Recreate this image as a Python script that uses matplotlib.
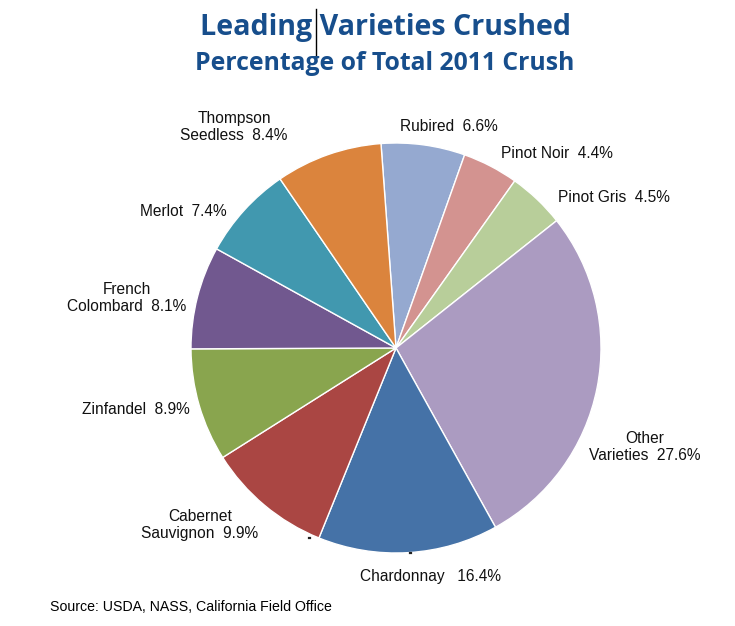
import matplotlib
matplotlib.use("Agg")
import matplotlib.pyplot as plt
from matplotlib.lines import Line2D

# ---- data ----
varieties = ["Rubired", "Pinot Noir", "Pinot Gris", "Other\nVarieties", "Chardonnay",
             "Cabernet\nSauvignon", "Zinfandel", "French\nColombard", "Merlot",
             "Thompson\nSeedless"]
# percentages printed in the labels
label_percents = [6.6, 4.4, 4.5, 27.6, 16.4, 9.9, 8.9, 8.1, 7.4, 8.4]
# wedge sizes as drawn (the Chardonnay wedge is drawn at ~14.2%)
wedge_sizes = [6.6, 4.4, 4.5, 27.6, 14.2, 9.9, 8.9, 8.1, 7.4, 8.4]
colors = ["#95A9D0", "#D39390", "#B8CE9A", "#AB9BC1", "#4572A7",
          "#AA4643", "#89A54E", "#71588F", "#4198AF", "#DB843D"]
title = "Leading Varieties Crushed"
subtitle = "Percentage of Total 2011 Crush"
source = "Source: USDA, NASS, California Field Office"

W, H = 735, 626
fig = plt.figure(figsize=(W / 100, H / 100), dpi=100)
fig.patch.set_facecolor("white")

def fx(px):
    return px / W

def fy(py):
    return 1 - py / H

cx, cy, R = 396, 348, 205
ax = fig.add_axes([fx(cx - R), fy(cy + R), 2 * R / W, 2 * R / H])
ax.pie(wedge_sizes, colors=colors, startangle=94.2, counterclock=False,
       wedgeprops=dict(edgecolor="white", linewidth=1.0), radius=1.0)
ax.set_xlim(-1, 1)
ax.set_ylim(-1, 1)
ax.set_aspect("equal")
ax.axis("off")

# label text and placement (pixel centres)
label_pos = [(449, 126), (557, 153), (614, 198), (645, 447), (431, 576),
             (200, 525), (136, 409), (127, 298), (183, 211), (234, 127)]
seps = ["  ", "  ", "  ", "  ", "   ", "  ", "  ", "  ", "  ", "  "]
for name, p, sep, (px, py) in zip(varieties, label_percents, seps, label_pos):
    fig.text(fx(px), fy(py), f"{name}{sep}{p:.1f}%", ha="center", va="center",
             multialignment="center", fontsize=11.2, family="Liberation Sans",
             color="#111111", linespacing=1.15)

title_color = "#174E8C"
fig.text(fx(385), fy(28), title, ha="center", va="center", fontsize=20.6,
         fontweight="bold", family="Open Sans", color=title_color)
fig.text(fx(385), fy(64), subtitle, ha="center", va="center", fontsize=17.8,
         fontweight="bold", family="Open Sans", color=title_color)

fig.text(fx(50), fy(607), source, ha="left", va="center", fontsize=10.2,
         family="Liberation Sans", color="#000000")

# small artifacts present in the reference image
fig.add_artist(Line2D([fx(315.5), fx(315.5)], [fy(9), fy(61)], color="black", lw=1.0))
fig.add_artist(Line2D([fx(309), fx(310)], [fy(538), fy(538)], color="#222222", lw=1.6))
fig.add_artist(Line2D([fx(410), fx(411)], [fy(553), fy(553)], color="#222222", lw=1.6))

fig.savefig("out.png", dpi=100, facecolor="white")
